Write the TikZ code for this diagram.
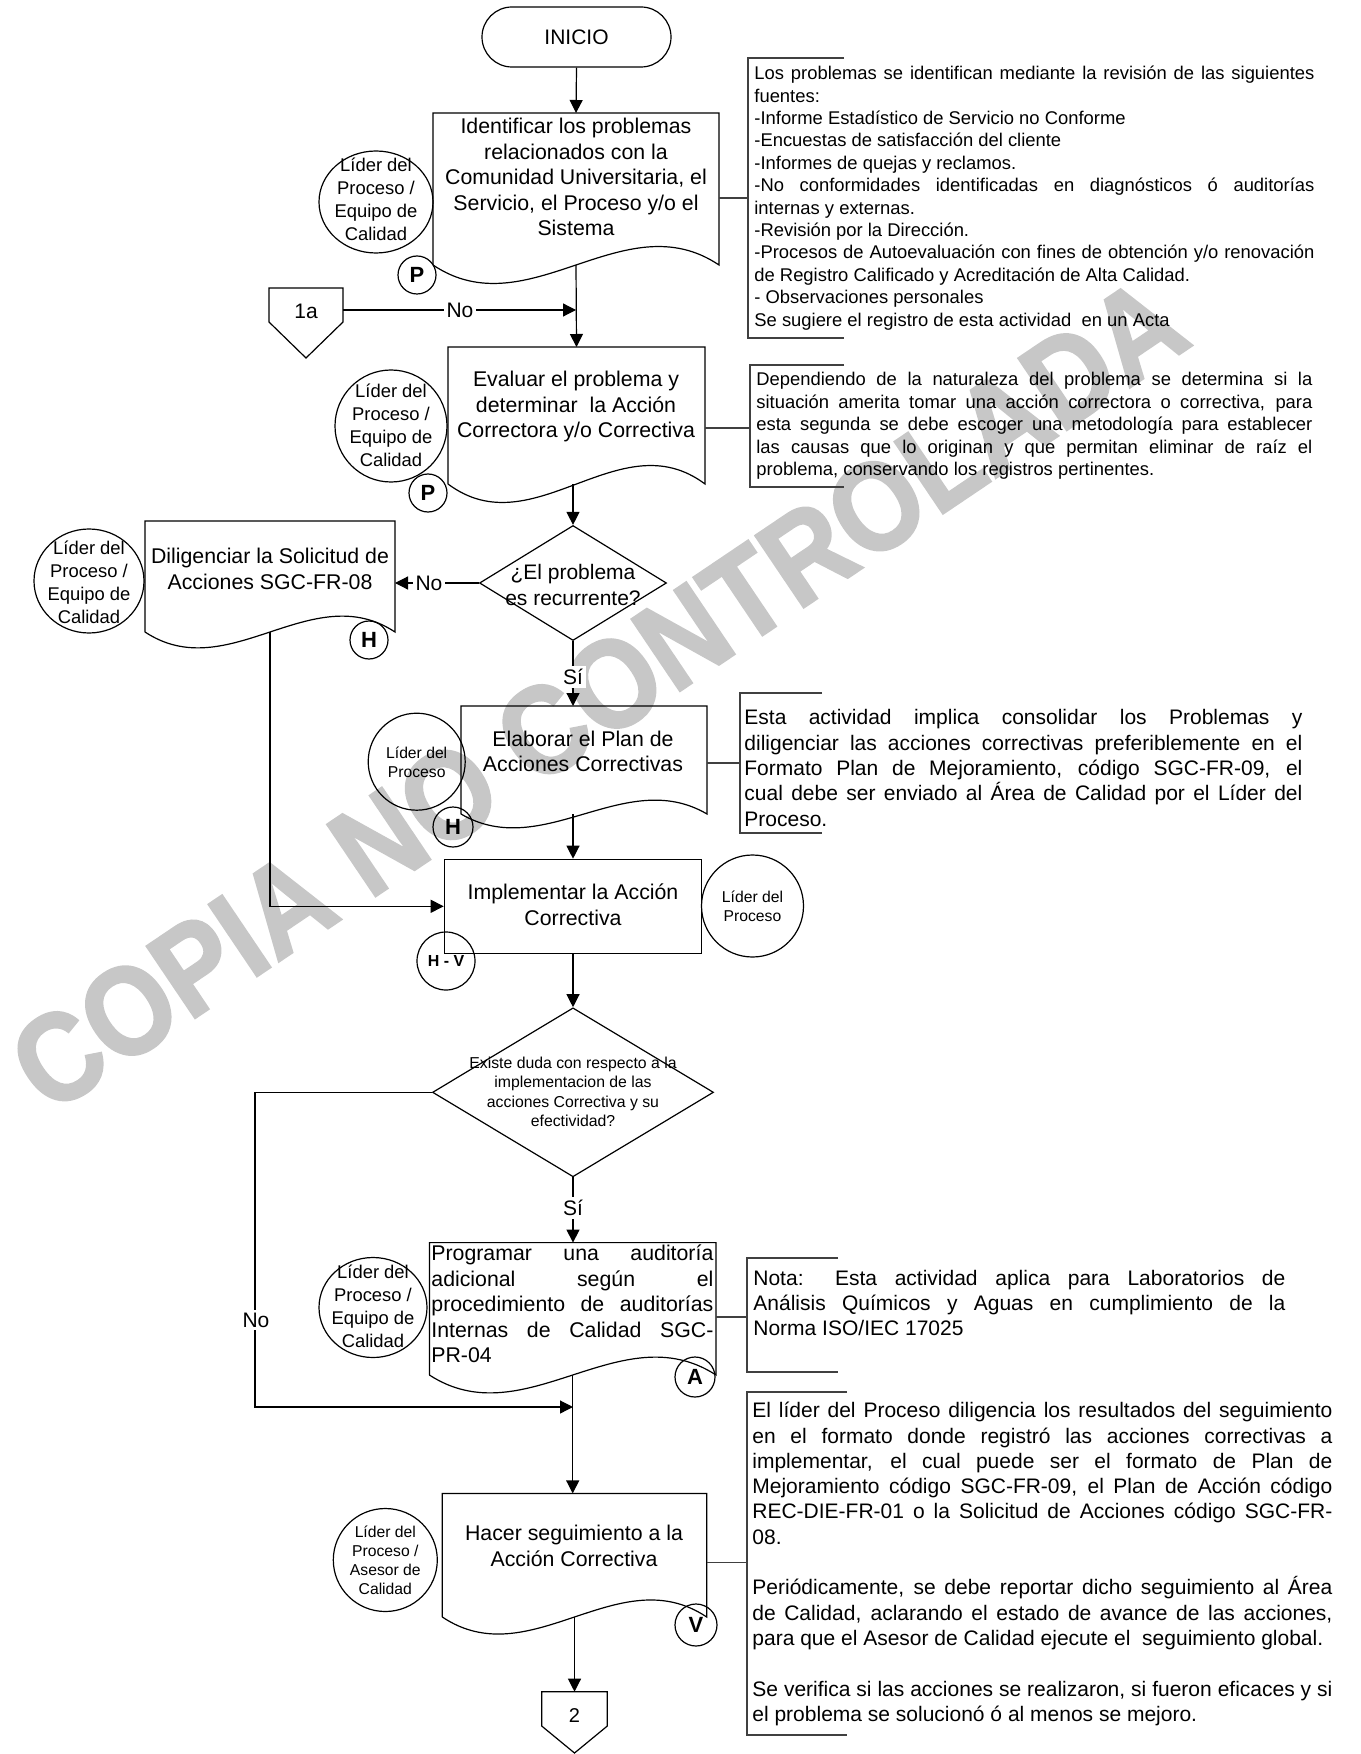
\documentclass[tikz,border=0pt]{standalone}
\usepackage{fontspec}
\setmainfont{Liberation Sans}
\newfontfamily\wmfont{Liberation Sans}[BoldFeatures={FakeBold=2}]
\usetikzlibrary{shapes.geometric,arrows.meta,calc}
\newcommand\DocOutline[2]{%
  \draw[ln] (#1.south west) -- (#1.north west) -- (#1.north east) -- (#1.south east)
    .. controls ($(#1.south east)!0.3333!(#1.south west)+(0,-#2)$) and ($(#1.south east)!0.6667!(#1.south west)+(0,#2)$) .. (#1.south west);}
\newcommand\NoteBracket[4]{\draw[notebr] (#4,#2) -- (#1,#2) -- (#1,#3) -- (#4,#3);}
\newcommand\NoteSetup{\hyphenpenalty10000 \exhyphenpenalty10000 \tolerance10000 \relax}
\begin{document}
\begin{tikzpicture}[x=0.5pt,y=-0.5pt,
  ln/.style={line width=0.6pt,draw=black},
  arr/.style={line width=0.6pt,draw=black,-{Triangle[length=6.5pt,width=6.5pt]}},
  notebr/.style={line width=0.6pt,draw=black!75},
  frame/.style={inner sep=0pt,outer sep=0pt},
  boxtxt/.style={align=center,inner sep=0pt,font=\fontsize{10.65}{12.75}\selectfont},
  roletxt/.style={align=center,inner sep=0pt,font=\fontsize{9.2}{11.5}\selectfont},
  rolesmall/.style={align=center,inner sep=0pt,font=\fontsize{7.85}{9.5}\selectfont},
  role/.style={ln,ellipse,inner sep=0pt},
  phase/.style={ln,circle,inner sep=0pt,minimum size=#1,font=\bfseries\fontsize{11}{13}\selectfont},
  lbl/.style={fill=white,inner sep=1.5pt,font=\fontsize{10.5}{12}\selectfont},
  notetxt/.style={align=justify,inner sep=0pt,anchor=west,text width=#1},
  notesmall/.style={font=\fontsize{9.2}{11.2}\selectfont\NoteSetup},
  notebig/.style={font=\fontsize{10.5}{12.65}\selectfont\NoteSetup},
  wmark/.style={text=black!22,inner sep=0pt,font=\wmfont\bfseries\fontsize{56}{60}\selectfont}
]
\useasboundingbox (0,0) rectangle (1360,1754);

% watermark
\node[wmark,rotate=34] (wm) at (598,694) {\scalebox{1}[1.12]{COPIA NO CONTROLADA}};

% start
\node[ln,rounded corners=15pt,minimum width=94.5pt,minimum height=30pt,inner sep=0pt,font=\fontsize{10.5}{12}\selectfont] (inicio) at (576.5,37) {INICIO};

% Identificar
\node[frame,minimum width=143pt,minimum height=76pt] (ident) at (576,189) {};
\DocOutline{ident}{64}
\node[boxtxt] (identT) at (576,177) {Identificar los problemas\\relacionados con la\\Comunidad Universitaria, el\\Servicio, el Proceso y/o el\\Sistema};
\node[role,minimum width=57pt,minimum height=51pt] (r1) at (376,202) {};
\node[roletxt] (r1t) at (376,199) {Líder del\\Proceso /\\Equipo de\\Calidad};
\node[phase=19pt] (p1) at (417,275) {P};

% connector 1a
\draw[ln] (269,288) -- (343,288) -- (343,322) -- (306,358) -- (269,322) -- cycle;
\node[font=\fontsize{10.5}{12}\selectfont,inner sep=0pt] (c1a) at (306,311) {1a};
\coordinate (c1aR) at (343,310);

% Evaluar
\node[frame,minimum width=128.5pt,minimum height=68.5pt] (eval) at (576.5,415.5) {};
\DocOutline{eval}{64}
\node[boxtxt] (evalT) at (576,406.5) {Evaluar el problema y\\determinar\ \ la Acción\\Correctora y/o Correctiva};
\node[role,minimum width=56pt,minimum height=56pt] (r2) at (391,426) {};
\node[roletxt] (r2t) at (391,425) {Líder del\\Proceso /\\Equipo de\\Calidad};
\node[phase=19pt] (p2) at (428,493) {P};

% Decision 1
\node[ln,diamond,minimum width=93.5pt,minimum height=57.5pt,inner sep=0pt] (dec1) at (573,583) {};
\node[boxtxt,font=\fontsize{10.5}{13}\selectfont] (dec1t) at (573,585) {¿El problema\\es recurrente?};

% Diligenciar
\node[frame,minimum width=125pt,minimum height=55.5pt] (dilig) at (270,576.5) {};
\DocOutline{dilig}{55}
\node[boxtxt] (diligT) at (270,569) {Diligenciar la Solicitud de\\Acciones SGC-FR-08};
\node[role,minimum width=55pt,minimum height=52pt] (r3) at (89,581) {};
\node[roletxt] (r3t) at (89,582) {Líder del\\Proceso /\\Equipo de\\Calidad};
\node[phase=19pt] (h1) at (369,640) {H};

% Elaborar
\node[frame,minimum width=123pt,minimum height=54pt] (elab) at (584,760) {};
\DocOutline{elab}{48}
\node[boxtxt] (elabT) at (583,751.5) {Elaborar el Plan de\\Acciones Correctivas};
\node[role,minimum width=48.5pt,minimum height=48.5pt] (r4) at (416.7,761.7) {};
\node[rolesmall] (r4t) at (416.7,762) {Líder del\\Proceso};
\node[phase=20pt] (h2) at (453,827) {H};

% Implementar
\node[ln,minimum width=128.7pt,minimum height=47pt,inner sep=0pt] (impl) at (573,906.3) {};
\node[boxtxt] (implT) at (573,905) {Implementar la Acción\\Correctiva};
\node[role,minimum width=51pt,minimum height=51pt] (r5) at (752.5,906) {};
\node[rolesmall] (r5t) at (752.5,906) {Líder del\\Proceso};
\node[phase=29pt,font=\bfseries\fontsize{8}{9}\selectfont] (hv) at (446,961) {H - V};

% Decision 2
\node[ln,diamond,minimum width=140.5pt,minimum height=84.5pt,inner sep=0pt] (dec2) at (573,1092.3) {};
\node[align=center,inner sep=0pt,font=\fontsize{7.9}{9.75}\selectfont] (dec2t) at (573,1092) {Existe duda con respecto a la\\implementacion de las\\acciones Correctiva y su\\efectividad?};

% Programar
\node[frame,minimum width=143.3pt,minimum height=66.2pt] (prog) at (572.7,1308.8) {};
\DocOutline{prog}{62}
\node[notetxt=141pt,font=\fontsize{10.65}{12.75}\selectfont\NoteSetup] (progT) at (431,1304) {Programar una auditoría\linebreak adicional según el\linebreak procedimiento de auditorías\linebreak Internas de Calidad SGC-\linebreak PR-04};
\node[role,minimum width=54pt,minimum height=50pt] (r6) at (373,1307.5) {};
\node[roletxt] (r6t) at (373,1306) {Líder del\\Proceso /\\Equipo de\\Calidad};
\node[phase=20pt] (a1) at (695,1377) {A};

% Hacer
\node[frame,minimum width=132.2pt,minimum height=61.8pt] (hacer) at (574.5,1555.2) {};
\DocOutline{hacer}{59}
\node[boxtxt] (hacerT) at (574,1545.8) {Hacer seguimiento a la\\Acción Correctiva};
\node[role,minimum width=52pt,minimum height=51.5pt] (r7) at (385.3,1560) {};
\node[rolesmall] (r7t) at (385.3,1560) {Líder del\\Proceso /\\Asesor de\\Calidad};
\node[phase=21pt] (v1) at (696,1625) {V};

% connector 2
\draw[ln] (541.7,1691.7) -- (607.3,1691.7) -- (607.3,1726) -- (574.5,1753) -- (541.7,1726) -- cycle;
\node[font=\fontsize{10}{12}\selectfont,inner sep=0pt] (c2) at (574.5,1715) {2};
\coordinate (c2top) at (574.5,1691.7);

% flow arrows
\draw[arr] (inicio.south) -- (ident.north);
\draw[arr] (ident.south) -- (eval.north);
\draw[arr] (c1aR) -- (ident.south |- c1aR);
\node[lbl] (no1) at (460,310) {No};
\draw[arr] (eval.south -| dec1.north) -- (dec1.north);
\draw[arr] (dec1.west) -- (dec1.west -| dilig.east);
\node[lbl] (no2) at (429,583) {No};
\draw[arr] (dec1.south) -- (dec1.south |- elab.north);
\node[lbl] (si1) at (573,677) {Sí};
\draw[arr] (impl.north |- elab.south) -- (impl.north);
\draw[arr] (dilig.south) |- (impl.west);
\draw[arr] (impl.south) -- (dec2.north);
\coordinate (noA) at (255,1092.3);
\coordinate (join) at (573,1407);
\draw[arr] (dec2.west) -- (noA) |- (join);
\node[lbl] (no3) at (256,1320) {No};
\draw[arr] (dec2.south) -- (dec2.south |- prog.north);
\node[lbl] (si2) at (573,1208) {Sí};
\draw[arr] (prog.south) -- (prog.south |- hacer.north);
\draw[arr] (hacer.south) -- (c2top);

% notes
\NoteBracket{748}{58}{338}{844}
\coordinate (n1c) at (748,198);
\draw[notebr] (ident.east |- n1c) -- (n1c);
\node[notetxt=280pt,notesmall] (n1t) at (754,198) {Los problemas se identifican mediante la revisión de las siguientes\linebreak fuentes:\par
-Informe Estadístico de Servicio no Conforme\par
-Encuestas de satisfacción del cliente\par
-Informes de quejas y reclamos.\par
-No conformidades identificadas en diagnósticos ó auditorías\linebreak internas y externas.\par
-Revisión por la Dirección.\par
-Procesos de Autoevaluación con fines de obtención y/o renovación\linebreak de Registro Calificado y Acreditación de Alta Calidad.\par
- Observaciones personales\par
Se sugiere el registro de esta actividad\ \ en un Acta};

\NoteBracket{750}{365}{487}{844}
\coordinate (n2c) at (750,428);
\draw[notebr] (eval.east |- n2c) -- (n2c);
\node[notetxt=278pt,notesmall] (n2t) at (756,426) {Dependiendo de la naturaleza del problema se determina si la\linebreak situación amerita tomar una acción correctora o correctiva, para\linebreak esta segunda se debe escoger una metodología para establecer\linebreak las causas que lo originan y que permitan eliminar de raíz el\linebreak problema, conservando los registros pertinentes.};

\NoteBracket{740}{693}{833}{822}
\coordinate (n3c) at (740,763);
\draw[notebr] (elab.east |- n3c) -- (n3c);
\node[notetxt=279pt,notebig] (n3t) at (744,768) {Esta actividad implica consolidar los Problemas y\linebreak diligenciar las acciones correctivas preferiblemente en el\linebreak Formato Plan de Mejoramiento, código SGC-FR-09, el\linebreak cual debe ser enviado al Área de Calidad por el Líder del\linebreak Proceso.};

\NoteBracket{747}{1258}{1372}{838}
\coordinate (n4c) at (747,1317);
\draw[notebr] (prog.east |- n4c) -- (n4c);
\node[notetxt=266pt,notebig] (n4t) at (753,1303) {Nota: Esta actividad aplica para Laboratorios de\linebreak Análisis Químicos y Aguas en cumplimiento de la\linebreak Norma ISO/IEC 17025};

\NoteBracket{747}{1392}{1735}{847}
\coordinate (n5c) at (747,1562.5);
\draw[notebr] (hacer.east |- n5c) -- (n5c);
\node[notetxt=290pt,notebig] (n5t) at (752,1564) {El líder del Proceso diligencia los resultados del seguimiento\linebreak en el formato donde registró las acciones correctivas a\linebreak implementar, el cual puede ser el formato de Plan de\linebreak Mejoramiento código SGC-FR-09, el Plan de Acción código\linebreak REC-DIE-FR-01 o la Solicitud de Acciones código SGC-FR-\linebreak 08.\par\vspace{12.65pt}
Periódicamente, se debe reportar dicho seguimiento al Área\linebreak de Calidad, aclarando el estado de avance de las acciones,\linebreak para que el Asesor de Calidad ejecute el\ \ seguimiento global.\par\vspace{12.65pt}
Se verifica si las acciones se realizaron, si fueron eficaces y si\linebreak el problema se solucionó ó al menos se mejoro.};
\end{tikzpicture}
\end{document}
